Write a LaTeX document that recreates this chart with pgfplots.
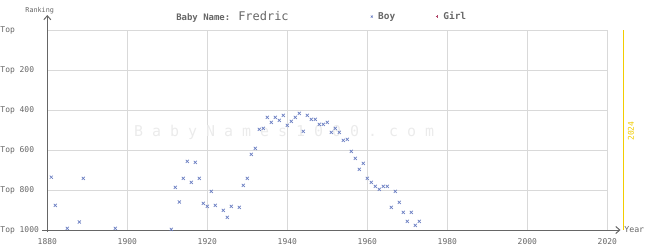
\documentclass[border=0pt]{standalone}
\usepackage{pgfplots}
\pgfplotsset{compat=1.18}
\usepackage{fontspec}
\setmainfont{DejaVu Sans Mono}
\usetikzlibrary{arrows.meta}
\definecolor{txt}{HTML}{666666}
\definecolor{gridc}{HTML}{D9D9D9}
\definecolor{boy}{HTML}{6A7EC2}
\definecolor{girl}{HTML}{B04468}
\definecolor{yel}{HTML}{F2CC00}
\definecolor{wm}{HTML}{EBEBEB}
\pgfplotsset{single mark legend/.style={legend image code/.code={\draw[##1, mark size=1.4bp] plot coordinates {(0bp,0bp)}; \path (-2bp,0bp) (4.5bp,0bp);}}}
\begin{document}
\begin{tikzpicture}
\useasboundingbox (-47.3bp,-20bp) rectangle (597.7bp,230bp);
\begin{axis}[
  scale only axis, width=560bp, height=200bp,
  xmin=1880, xmax=2020, ymin=0, ymax=1000, y dir=reverse,
  clip=false,
  axis line style={draw=none},
  grid=major, major grid style={gridc, line width=1bp},
  xtick={1880,1900,...,2020}, ytick={0,200,...,1000},
  yticklabels={Top, Top 200, Top 400, Top 600, Top 800, Top 1000},
  major tick length=0pt,
  /pgf/number format/assume math mode=true,
  /pgf/number format/1000 sep={},
  tick label style={font=\fontsize{8}{8}\selectfont, text=txt},
  yticklabel style={anchor=west, inner sep=0pt, xshift=-47bp},
  xticklabel style={anchor=north, inner sep=0pt, yshift=-8.5bp},
  legend columns=2,
  legend style={at={(0.575,1.067)}, anchor=west, draw=none, fill=none,
    font=\bfseries\fontsize{9.5}{9.5}\selectfont, text=txt, inner sep=0pt,
    /tikz/every even column/.append style={column sep=38bp},
    nodes={inner sep=1.5bp}},
]
\node[text=wm, font=\fontsize{15}{15}\selectfont] at (axis cs:1939.2,510) {B a b y N a m e s 1 0 0 0 . c o m};
\addplot[only marks, mark=x, color=boy, mark size=2.2bp, line width=0.65bp, single mark legend]
  table {
1881 736
1882 877
1885 992
1888 960
1889 742
1897 992
1911 997
1912 787
1913 860
1914 742
1915 657
1916 762
1917 662
1918 742
1919 867
1920 882
1921 807
1922 877
1924 902
1925 937
1926 882
1928 887
1929 777
1930 742
1931 622
1932 592
1933 497
1934 492
1935 437
1936 462
1937 437
1938 452
1939 427
1940 477
1941 457
1942 437
1943 417
1944 507
1945 427
1946 447
1947 447
1948 472
1949 472
1950 462
1951 512
1952 492
1953 512
1954 552
1955 547
1956 607
1957 642
1958 697
1959 667
1960 742
1961 762
1962 782
1963 797
1964 782
1965 782
1966 887
1967 807
1968 862
1969 912
1970 957
1971 912
1972 977
1973 957
};
\addlegendentry{Boy}
\addlegendimage{only marks, mark=+, color=girl, mark size=2.2bp, line width=0.65bp, single mark legend}
\addlegendentry{Girl}
% axes
\draw[txt, line width=1bp, -{Straight Barb[length=4bp, width=7bp]}] (axis cs:1878.8,1000) -- (axis cs:2023.3,1000);
\draw[txt, line width=1bp, -{Straight Barb[length=4bp, width=7bp]}] (axis cs:1880,1010) -- (axis cs:1880,-75);
\node[anchor=west, inner sep=0pt, text=txt, font=\fontsize{8.3}{8.3}\selectfont] at (axis cs:2024.2,1000) {Year};
\node[inner sep=0pt, text=txt, font=\fontsize{6.8}{6.8}\selectfont] at (axis cs:1878.1,-98) {Ranking};
% current year
\draw[yel, line width=1bp] (axis cs:2024,0) -- (axis cs:2024,1000);
\node[rotate=90, inner sep=0pt, text=yel, font=\fontsize{8}{8}\selectfont] at (axis cs:2025.9,505) {2024};
% title
\node[anchor=base west, inner sep=0pt, text=txt] at (axis cs:1912.2,-46.5) {{\bfseries\fontsize{9}{9}\selectfont Baby Name:} {\fontsize{12}{12}\selectfont Fredric}};
\end{axis}
\end{tikzpicture}
\end{document}
